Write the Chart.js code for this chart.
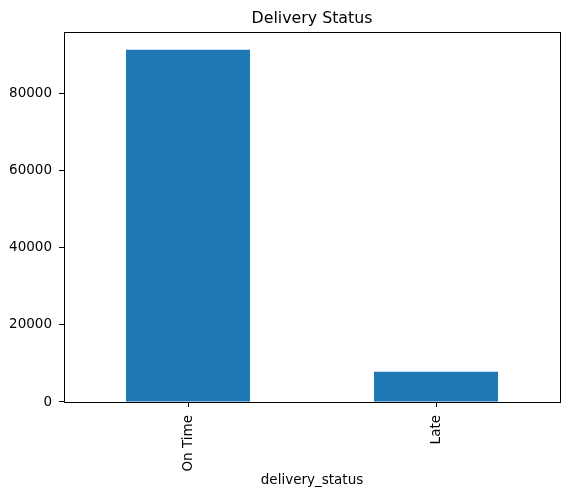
<!DOCTYPE html>
<html>
<head>
<meta charset="utf-8">
<script src="https://cdn.jsdelivr.net/npm/chart.js@4"></script>
<style>
  html, body { margin: 0; padding: 0; background: #fff; }
  #wrap { width: 569px; height: 499px; }
</style>
</head>
<body>
<div id="wrap"><canvas id="statusChart" width="569" height="499"></canvas></div>
<script>
const categories = ["On Time", "Late"];
const counts = [91500, 7870];
const yTicks = [0, 20000, 40000, 60000, 80000];
const yMax = 96100;

// frame around the plot area, and title centred over the plot like matplotlib
const frame = {
  id: "frame",
  afterLayout(chart) {
    if (chart.titleBlock) {
      chart.titleBlock.left = chart.chartArea.left;
      chart.titleBlock.right = chart.chartArea.right;
    }
  },
  afterDraw(chart) {
    const a = chart.chartArea;
    const ctx = chart.ctx;
    ctx.save();
    ctx.strokeStyle = "#000";
    ctx.lineWidth = 1;
    ctx.strokeRect(Math.round(a.left) + 0.5, Math.round(a.top) + 0.5,
      Math.round(a.right - a.left), Math.round(a.bottom - a.top));
    ctx.restore();
  }
};

const font = { family: "DejaVu Sans", size: 13.5 };

new Chart(document.getElementById("statusChart").getContext("2d"), {
  type: "bar",
  data: {
    labels: categories,
    datasets: [{
      label: "count",
      data: counts,
      backgroundColor: "#1f77b4",
      categoryPercentage: 0.5,
      barPercentage: 1.0,
    }],
  },
  options: {
    responsive: false,
    animation: false,
    layout: { padding: { left: 0, right: 9, top: 0, bottom: 0 } },
    plugins: {
      legend: { display: false },
      tooltip: { enabled: false },
      title: {
        display: true,
        text: "Delivery Status",
        color: "#000",
        font: { family: "DejaVu Sans", size: 15.8, weight: "normal" },
        padding: { top: 9, bottom: 4 },
      },
    },
    scales: {
      x: {
        offset: true,
        border: { display: false },
        grid: { display: true, offset: false, drawOnChartArea: false, drawTicks: true, tickLength: 5, color: "#000" },
        ticks: { color: "#000", font: font, maxRotation: 90, minRotation: 90, padding: 8 },
        title: { display: true, text: "delivery_status", color: "#000", font: font, padding: { top: 4, bottom: 10 } },
        afterFit(scale) { scale.height = 97; },
      },
      y: {
        min: 0,
        max: yMax,
        border: { display: false },
        grid: { display: true, drawOnChartArea: false, drawTicks: true, tickLength: 5, color: "#000" },
        ticks: { color: "#000", font: font, padding: 7, callback: v => String(v) },
        afterBuildTicks(scale) { scale.ticks = yTicks.map(v => ({ value: v })); },
        afterFit(scale) { scale.width = 64; },
      },
    },
  },
  plugins: [frame],
});
</script>
</body>
</html>
